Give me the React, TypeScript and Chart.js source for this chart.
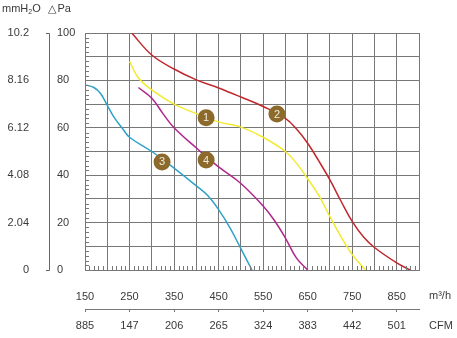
import React, { useEffect, useRef } from 'react';
import { Chart, registerables } from 'chart.js';

Chart.register(...registerables);

// ---- data ----
const redFlow = [255, 300, 350, 400, 450, 500, 550, 600, 625, 650, 675, 700, 725, 750, 775, 800, 850, 880];
const redPa = [100, 90.7, 84.8, 80.2, 76.8, 73, 69, 64, 59.5, 53.5, 46, 38, 29, 20.5, 14, 9.5, 3, 0];

const yellowFlow = [250, 270, 300, 350, 400, 450, 500, 550, 600, 625, 650, 675, 700, 725, 750, 780];
const yellowPa = [88, 81, 76, 70, 66, 62.5, 60.3, 56, 50, 45, 38.5, 31.5, 22.5, 14, 6.5, 0];

const magentaFlow = [270, 300, 325, 350, 400, 450, 500, 550, 575, 600, 625, 650];
const magentaPa = [77, 72.5, 66, 60, 51.5, 43.5, 36.5, 27, 21, 13.5, 5, 0];

const cyanFlow = [153, 170, 185, 200, 215, 235, 250, 300, 350, 400, 425, 450, 475, 500, 525];
const cyanPa = [78, 77, 74.5, 69.5, 64.5, 59.5, 56, 50, 43, 35.5, 31.5, 25.5, 18, 9, 0];

const markerLabels = ['1', '2', '3', '4'];
const markerFlow = [422, 581, 323, 422];
const markerPa = [64.2, 65.8, 45.6, 46.4];

const flowTickLabels = [150, 250, 350, 450, 550, 650, 750, 850];
const cfmLabels = ['885', '147', '206', '265', '324', '383', '442', '501'];
const paTickLabels = [0, 20, 40, 60, 80, 100];
const mmLabels = ['0', '2.04', '4.08', '6.12', '8.16', '10.2'];

const FONT = '"Liberation Sans", Arial, Helvetica, sans-serif';
const TEXT = '#3a3a3a';
const GRID = '#777777';

const toPts = (xs: number[], ys: number[]) => xs.map((x, i) => ({ x, y: ys[i] }));

const decorPlugin = {
  id: 'decor',
  afterDraw(chart: any) {
    const ctx = chart.ctx;
    const ca = chart.chartArea;
    const xs = chart.scales.x;
    const ys = chart.scales.y;
    ctx.save();
    // minor ticks left and bottom
    ctx.strokeStyle = GRID;
    ctx.lineWidth = 1;
    ctx.beginPath();
    for (let v = 2; v < 100; v += 2) {
      if (v % 10 === 0) continue;
      const y = Math.round(ys.getPixelForValue(v)) + 0.5;
      ctx.moveTo(ca.left, y);
      ctx.lineTo(ca.left + 4, y);
    }
    for (let v = 160; v < 900; v += 10) {
      if (v % 50 === 0) continue;
      const x = Math.round(xs.getPixelForValue(v)) + 0.5;
      ctx.moveTo(x, ca.bottom);
      ctx.lineTo(x, ca.bottom - 4);
    }
    ctx.stroke();

    // bracket between the two y columns
    const top = Math.round(ys.getPixelForValue(100)) + 0.5;
    const bot = Math.round(ys.getPixelForValue(0)) + 0.5;
    ctx.strokeStyle = '#666';
    ctx.beginPath();
    ctx.moveTo(46, top);
    ctx.lineTo(49.5, top);
    ctx.lineTo(49.5, bot);
    ctx.lineTo(46, bot);
    ctx.stroke();

    // header
    ctx.fillStyle = TEXT;
    ctx.textBaseline = 'middle';
    ctx.textAlign = 'left';
    ctx.font = `11px ${FONT}`;
    let x = 2;
    ctx.fillText('mmH', x, 9);
    x += ctx.measureText('mmH').width;
    ctx.font = `7px ${FONT}`;
    ctx.fillText('2', x, 12);
    x += ctx.measureText('2').width;
    ctx.font = `11px ${FONT}`;
    ctx.fillText('O', x, 9);
    ctx.font = `11px "DejaVu Sans", ${FONT}`;
    ctx.fillText('△', 48, 9);
    const tw = ctx.measureText('△').width;
    ctx.font = `11px ${FONT}`;
    ctx.fillText('Pa', 48 + tw + 1, 9);

    // units
    ctx.font = `11px ${FONT}`;
    ctx.fillText('m³/h', 429, 296);
    ctx.fillText('CFM', 429, 326);
    ctx.restore();
  },
};

const markerTextPlugin = {
  id: 'markerText',
  afterDatasetsDraw(chart: any) {
    const ctx = chart.ctx;
    const idx = chart.data.datasets.findIndex((d: any) => d.label === 'markers');
    if (idx < 0) return;
    const meta = chart.getDatasetMeta(idx);
    ctx.save();
    ctx.fillStyle = '#f4ecdc';
    ctx.font = `11px ${FONT}`;
    ctx.textAlign = 'center';
    ctx.textBaseline = 'middle';
    meta.data.forEach((pt: any, i: number) => {
      ctx.fillText(markerLabels[i], pt.x, pt.y + 0.5);
    });
    ctx.restore();
  },
};

export default function App() {
  const ref = useRef<HTMLCanvasElement | null>(null);

  useEffect(() => {
    if (!ref.current) return;
    const lineDs = (label: string, xs: number[], ys: number[], color: string) => ({
      label,
      data: toPts(xs, ys),
      borderColor: color,
      backgroundColor: color,
      borderWidth: 1.5,
      pointRadius: 0,
      tension: 0.4,
      fill: false,
      order: 1,
    });
    const chart = new Chart(ref.current, {
      type: 'line',
      data: {
        datasets: [
          lineDs('red', redFlow, redPa, '#c0272d'),
          lineDs('yellow', yellowFlow, yellowPa, '#f3ea2e'),
          lineDs('magenta', magentaFlow, magentaPa, '#b0268c'),
          lineDs('cyan', cyanFlow, cyanPa, '#2fa2c8'),
          {
            label: 'markers',
            data: toPts(markerFlow, markerPa),
            showLine: false,
            pointRadius: 8.5,
            pointHoverRadius: 8.5,
            pointBackgroundColor: '#8b6a2c',
            pointBorderWidth: 0,
            borderColor: '#8b6a2c',
            order: 0,
          } as any,
        ],
      },
      options: {
        animation: false,
        responsive: false,
        events: [],
        layout: { padding: { left: 0, top: 33, right: 38, bottom: 0 } },
        plugins: { legend: { display: false }, tooltip: { enabled: false } },
        scales: {
          x: {
            type: 'linear',
            position: 'bottom',
            weight: 0,
            min: 150,
            max: 900,
            grid: { color: GRID, lineWidth: 1, drawTicks: false },
            border: { color: GRID, width: 1 },
            ticks: {
              stepSize: 50,
              autoSkip: false,
              maxRotation: 0,
              padding: 20,
              color: TEXT,
              font: { family: FONT, size: 11 },
              callback: (v: any) => (flowTickLabels.includes(Number(v)) ? String(v) : ''),
            },
            afterFit: (s: any) => {
              s.height = 39;
            },
          },
          xc: {
            type: 'linear',
            position: 'bottom',
            weight: 1,
            min: 150,
            max: 900,
            grid: { display: true, drawOnChartArea: false, drawTicks: true, tickLength: 3, color: GRID },
            border: { display: true, color: GRID, width: 1 },
            afterBuildTicks: (s: any) => {
              s.ticks = flowTickLabels.map((v) => ({ value: v }));
            },
            ticks: {
              autoSkip: false,
              maxRotation: 0,
              padding: 7,
              color: TEXT,
              font: { family: FONT, size: 11 },
              callback: (_v: any, i: number) => cfmLabels[i],
            },
            afterFit: (s: any) => {
              s.height = 29;
            },
          },
          y: {
            type: 'linear',
            position: 'left',
            weight: 0,
            min: 0,
            max: 100,
            grid: { color: GRID, lineWidth: 1, drawTicks: false },
            border: { color: GRID, width: 1 },
            ticks: {
              stepSize: 10,
              autoSkip: false,
              crossAlign: 'far',
              padding: 4,
              color: TEXT,
              font: { family: FONT, size: 11 },
              callback: (v: any) => (paTickLabels.includes(Number(v)) ? String(v) : ''),
            },
            afterFit: (s: any) => {
              s.width = 28;
            },
          },
          ymm: {
            type: 'linear',
            position: 'left',
            weight: 1,
            min: 0,
            max: 100,
            grid: { display: false },
            border: { display: false },
            ticks: {
              stepSize: 20,
              autoSkip: false,
              padding: 20,
              color: TEXT,
              font: { family: FONT, size: 11 },
              callback: (_v: any, i: number) => mmLabels[i],
            },
            afterFit: (s: any) => {
              s.width = 57;
            },
          },
        },
      } as any,
      plugins: [decorPlugin, markerTextPlugin],
    });
    return () => chart.destroy();
  }, []);

  return (
    <div style={{ position: 'fixed', left: 0, top: 0, width: 457, height: 338, background: '#fff' }}>
      <canvas ref={ref} width={457} height={338} style={{ display: 'block' }} />
    </div>
  );
}
